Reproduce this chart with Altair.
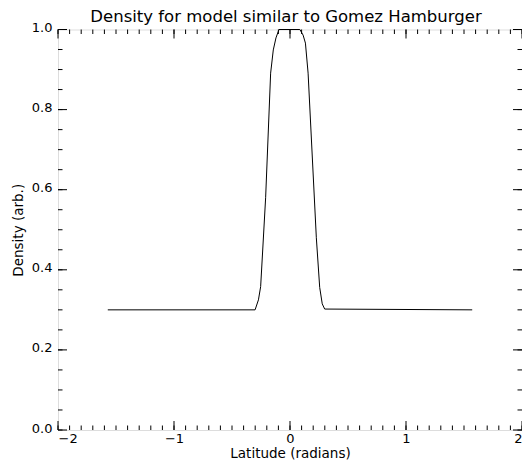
import altair as alt
import pandas as pd

# Data
latitude = [-1.5708, -0.301, -0.272, -0.253, -0.21, -0.167, -0.144, -0.121, -0.095,
            0.085, 0.113, 0.133, 0.156, 0.227, 0.256, 0.278, 0.299, 1.5708]
density = [0.30, 0.30, 0.325, 0.358, 0.58, 0.891, 0.949, 0.979, 1.0,
           1.0, 0.986, 0.966, 0.891, 0.48, 0.356, 0.315, 0.302, 0.30]

x_major = [-2, -1, 0, 1, 2]
x_minor = [round(-2 + 0.1 * i, 1) for i in range(41)]
y_major = [0.0, 0.2, 0.4, 0.6, 0.8, 1.0]
y_minor = [round(0.05 * i, 2) for i in range(21)]

df = pd.DataFrame({"lat": latitude, "dens": density})

FONT = "DejaVu Sans"
W = 464
H = 400.5
MAJ = 9
MIN = 4.5

xs = alt.Scale(domain=[-2, 2], nice=False, zero=False)
ys = alt.Scale(domain=[0, 1], nice=False, zero=False)

line = alt.Chart(df).mark_line(color="black", strokeWidth=1).encode(
    x=alt.X("lat:Q", scale=xs, axis=alt.Axis(
        values=x_major, format="d", ticks=False, domain=False,
        grid=False, labelPadding=2, labelFontSize=13, labelFont=FONT, labelColor="black",
        title="Latitude (radians)", titleFont=FONT, titleFontSize=13.5,
        titleFontWeight="normal", titleColor="black", titleY=27,
        titleBaseline="alphabetic")),
    y=alt.Y("dens:Q", scale=ys, axis=alt.Axis(
        values=y_major, format=".1f", ticks=False, domain=False,
        grid=False, labelPadding=6, labelFontSize=13, labelFont=FONT, labelColor="black",
        labelBaseline="middle", labelOffset=-2,
        title="Density (arb.)", titleFont=FONT, titleFontSize=13.5,
        titleFontWeight="normal", titleColor="black", titleX=-40, titleY=H / 2,
        titleAlign="center", titleBaseline="middle", titleAngle=-90)),
)


def xticks(vals, size):
    d = pd.DataFrame({"v": vals})
    bottom = alt.Chart(d).mark_rule(color="black", strokeWidth=1).encode(
        x=alt.X("v:Q", scale=xs), y=alt.value(H), y2=alt.value(H - size))
    top = alt.Chart(d).mark_rule(color="black", strokeWidth=1).encode(
        x=alt.X("v:Q", scale=xs), y=alt.value(0), y2=alt.value(size))
    return [bottom, top]


def yticks(vals, size):
    d = pd.DataFrame({"v": vals})
    left = alt.Chart(d).mark_rule(color="black", strokeWidth=1).encode(
        y=alt.Y("v:Q", scale=ys), x=alt.value(0), x2=alt.value(size))
    right = alt.Chart(d).mark_rule(color="black", strokeWidth=1).encode(
        y=alt.Y("v:Q", scale=ys), x=alt.value(W), x2=alt.value(W - size))
    return [left, right]


layers = [line] + xticks(x_minor, MIN) + xticks(x_major, MAJ) \
    + yticks(y_minor, MIN) + yticks(y_major, MAJ)

chart = alt.layer(*layers).properties(
    width=W,
    height=H,
    autosize=alt.AutoSizeParams(type="none"),
    padding={"left": 50, "top": 21.5, "right": 0, "bottom": 32},
    title=alt.TitleParams(
        "Density for model similar to Gomez Hamburger",
        font=FONT, fontSize=16.5, fontWeight="normal", color="black",
        anchor="middle", dx=-4, dy=14, offset=10),
).configure_view(stroke="black", strokeWidth=1).configure(background="white")

chart.save("out.html", embed_options={"renderer": "svg", "actions": False})
